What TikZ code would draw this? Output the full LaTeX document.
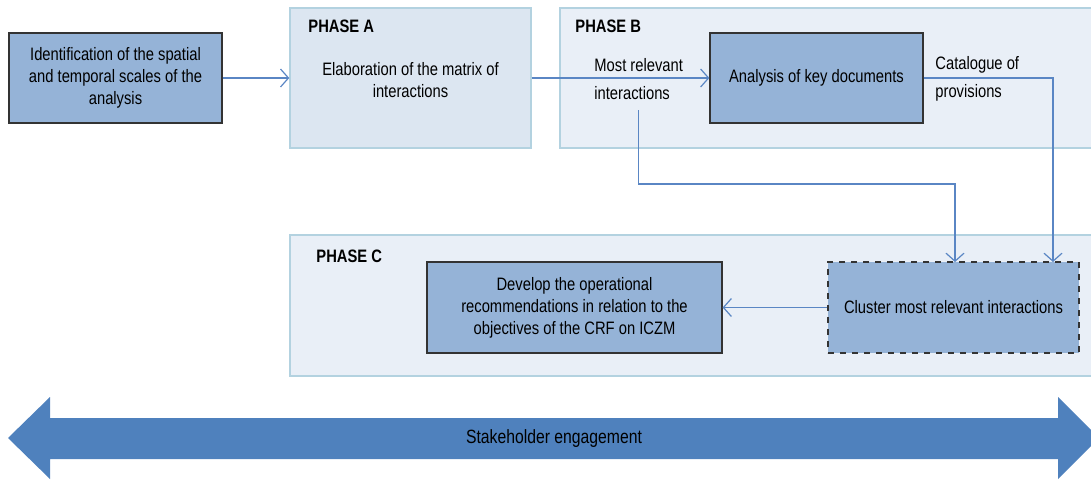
\documentclass[tikz,border=0pt]{standalone}
\usepackage{fontspec}
\setmainfont{Liberation Sans}[FakeStretch=0.82]
\usetikzlibrary{arrows.meta}
\definecolor{taskfill}{HTML}{95B3D7}
\definecolor{phaseAfill}{HTML}{DCE6F1}
\definecolor{phasefill}{HTML}{E9EFF7}
\definecolor{phaseline}{HTML}{B3D2E0}
\definecolor{linkblue}{HTML}{5A86C4}
\definecolor{bandblue}{HTML}{4F81BD}
\tikzset{every picture/.style={x=0.5pt,y=-0.5pt,font=\fontsize{9}{11}\selectfont},
  phase/.style={draw=phaseline,fill=phasefill,line width=0.7pt,inner sep=0pt},
  task/.style={draw=black!80,fill=taskfill,line width=0.6pt,align=center,inner sep=2pt},
  link/.style={draw=linkblue,line width=0.6pt,-{Straight Barb[length=4pt,width=9pt]}},
  tag/.style={font=\bfseries\fontsize{9}{11}\selectfont,anchor=west,inner sep=0pt},
  note/.style={align=left,anchor=west,inner xsep=2pt,inner ysep=5pt,font=\fontsize{9}{14}\selectfont}}

\begin{document}
\begin{tikzpicture}
      \useasboundingbox (0,0) rectangle (1091,481);
      % phases
      \node[phase,fill=phaseAfill,minimum width=120.5pt,minimum height=70pt] (PA) at (410.5,78) {};
      \node[phase,minimum width=268pt,minimum height=70pt] (PB) at (828,78) {};
      \node[phase,minimum width=403pt,minimum height=70.5pt] (PC) at (693,305.5) {};
      \node[tag] (TA) at (308,26) {PHASE A};
      \node[tag] (TB) at (575,26) {PHASE B};
      \node[tag] (TC) at (316,256) {PHASE C};
      % tasks
      \node[task,minimum width=106.5pt,minimum height=45pt] (Id) at (115.5,78) {Identification of the spatial\\and temporal scales of the\\analysis};
      \node[align=center] (Mx) at (410.5,80) {Elaboration of the matrix of\\interactions};
      \node[task,minimum width=106.5pt,minimum height=45pt] (An) at (816.5,78) {Analysis of key documents};
      \node[note] (MR) at (590,79) {Most relevant\\interactions};
      \node[note] (Cat) at (931,79) {Catalogue of\\provisions};
      \node[task,minimum width=147.5pt,minimum height=45.5pt] (Dev) at (574.5,307.5) {Develop the operational\\recommendations in relation to the\\objectives of the CRF on ICZM};
      \node[task,dashed,minimum width=125.5pt,minimum height=45.5pt] (Cl) at (953.5,307.5) {Cluster most relevant interactions};
      \coordinate (ClInA) at (955,262);
      \coordinate (ClInB) at (1053,262);
      \coordinate (Bend) at (955,184);
      % links
      \draw[link] (Id.east) -- (PA.west);
      \draw[link] (PA.east) -- (An.west);
      \draw[link] (An.east) -| (ClInB);
      \draw[link] (MR.south) |- (Bend) -- (ClInA);
      \draw[link] (Cl.west) -- (Dev.east);
      % stakeholder band
      \fill[bandblue] (8,438) -- (50,397) -- (50,418) -- (1058,418) -- (1058,397)
        -- (1099,438) -- (1058,479) -- (1058,459) -- (50,459) -- (50,479) -- cycle;
      \node[font=\fontsize{9.6}{11}\selectfont] (SE) at (554,439) {Stakeholder engagement};
    \end{tikzpicture}
\end{document}
